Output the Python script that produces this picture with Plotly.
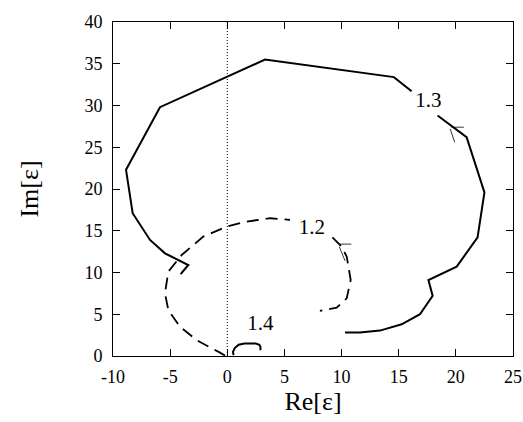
import plotly.graph_objects as go

# Curve 1.3 (solid, outer)
c13_x = [-4.08, -3.41, -5.45, -6.76, -8.28, -8.86, -5.89, 3.30, 14.58, 16.13]
c13_y = [9.8, 10.9, 12.3, 13.9, 17.1, 22.3, 29.8, 35.5, 33.4, 31.7]
c13b_x = [18.4, 20.94, 22.5, 21.9, 20.07, 17.6, 17.97, 16.86, 15.26, 13.36, 11.6, 10.3]
c13b_y = [28.8, 26.2, 19.6, 14.2, 10.7, 9.1, 7.2, 5.0, 3.8, 3.04, 2.8, 2.8]

# Curve 1.2 (dashed)
c12_x = [-0.2, -0.64, -2.68, -4.14, -5.16, -5.45, -5.16, -3.99, -2.1, -0.05, 1.7, 3.74, 5.49]
c12_y = [0.05, 0.4, 1.9, 3.5, 5.5, 7.5, 10.1, 12.1, 14.3, 15.5, 16.1, 16.5, 16.3]
c12b_x = [9.2, 10.0, 10.45, 10.8, 10.45, 9.57, 8.1]
c12b_y = [14.2, 13.1, 11.9, 9.1, 6.9, 5.8, 5.4]

# Curve 1.4 (solid, small)
c14_x = [0.55, 0.5, 0.65, 1.0, 1.5, 2.5, 2.8, 2.9, 2.9]
c14_y = [0.1, 0.5, 0.95, 1.35, 1.5, 1.5, 1.35, 1.1, 0.7]

# small markers
m13h_x = [19.6, 20.7]; m13h_y = [27.4, 27.4]
m13s_x = [19.5, 19.9]; m13s_y = [27.2, 25.6]
m12h_x = [9.85, 10.85]; m12h_y = [13.4, 13.4]
m12s_x = [9.8, 10.3]; m12s_y = [13.1, 11.4]

labels = ["1.3", "1.2", "1.4"]
label_x = [17.6, 7.4, 2.9]
label_y = [30.4, 15.3, 3.7]

x_ticks = [-10, -5, 0, 5, 10, 15, 20, 25]
x_ticktext = ["-10", "-5", "0", "5", "10", "15", "20", "25"]
y_ticks = [0, 5, 10, 15, 20, 25, 30, 35, 40]

fig = go.Figure()
# dotted zero line
fig.add_trace(go.Scatter(x=[0, 0], y=[0, 40], mode="lines",
                         line=dict(color="black", width=1, dash="1px,2px")))
for xs, ys in [(c13_x, c13_y), (c13b_x, c13b_y), (c14_x, c14_y)]:
    fig.add_trace(go.Scatter(x=xs, y=ys, mode="lines",
                             line=dict(color="black", width=2)))
for xs, ys in [(c12_x, c12_y), (c12b_x, c12b_y)]:
    fig.add_trace(go.Scatter(x=xs, y=ys, mode="lines",
                             line=dict(color="black", width=1.8, dash="12px,7px")))
for xs, ys in [(m13h_x, m13h_y), (m13s_x, m13s_y), (m12h_x, m12h_y), (m12s_x, m12s_y)]:
    fig.add_trace(go.Scatter(x=xs, y=ys, mode="lines",
                             line=dict(color="black", width=0.8)))
fig.add_trace(go.Scatter(x=label_x, y=label_y, mode="text", text=labels,
                         textfont=dict(family="Liberation Serif", size=21, color="black")))

axis_common = dict(showgrid=False, zeroline=False, showline=True, linecolor="black",
                   linewidth=1, mirror="ticks", ticks="inside", ticklen=7,
                   tickcolor="black", automargin=False,
                   tickfont=dict(family="Liberation Serif", size=18, color="black"))
fig.update_xaxes(range=[-10, 25], tickvals=x_ticks, ticktext=x_ticktext, ticklabelstandoff=4,
                 **axis_common,
                 title=dict(text="Re[ε]", font=dict(family="Liberation Serif", size=26, color="black"),
                            standoff=4))
fig.update_yaxes(range=[0, 40], tickvals=y_ticks, **axis_common, ticklabelstandoff=6,
                 title=dict(text="Im[ε]", font=dict(family="Liberation Serif", size=26, color="black"),
                            standoff=38))
fig.update_layout(width=523, height=422,
                  margin=dict(l=113, r=10, t=22, b=66, autoexpand=False),
                  plot_bgcolor="white", paper_bgcolor="white", showlegend=False)
fig.write_html("out.html")
